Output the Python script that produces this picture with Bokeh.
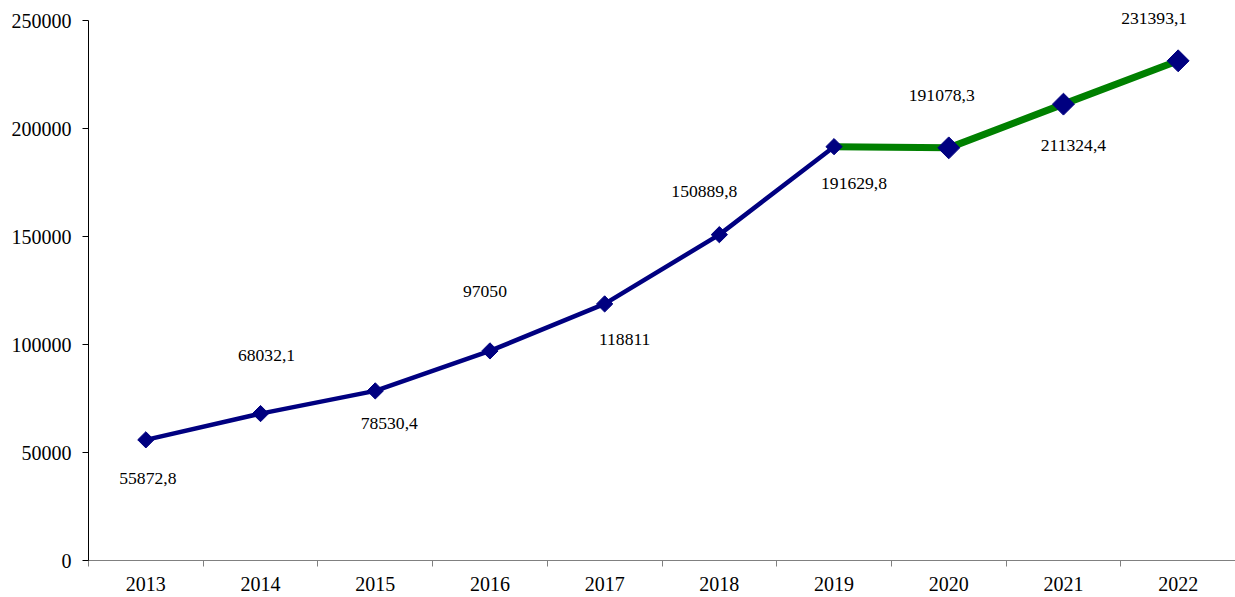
import math
from bokeh.plotting import figure
from bokeh.models import ColumnDataSource, FixedTicker, LabelSet, NumeralTickFormatter, Range1d
from bokeh.embed import file_html
from bokeh.resources import INLINE

# ---- data ----
years = [2013, 2014, 2015, 2016, 2017, 2018, 2019, 2020, 2021, 2022]
values = [55872.8, 68032.1, 78530.4, 97050, 118811, 150889.8, 191629.8, 191078.3, 211324.4, 231393.1]
value_labels = ["55872,8", "68032,1", "78530,4", "97050", "118811", "150889,8",
                "191629,8", "191078,3", "211324,4", "231393,1"]
y_ticks = [0, 50000, 100000, 150000, 200000, 250000]
split_year = 2019

# ---- style / layout (not data) ----
FONT = "Liberation Serif"
NAVY = "#000080"
GREEN = "#008000"
label_dx = [2, 6, 14, -5, 20, -15, 20, -7, 10, -24]
label_dy = [-39, 58, -33, 59, -36, 43, -37, 52, -41, 42]
marker_size = [11.5 if y <= split_year else 15.5 for y in years]
y_view_end = 257000  # a little headroom above the axis so top labels are not clipped

p = figure(width=1235, height=597, output_backend="svg", toolbar_location=None,
           x_range=Range1d(years[0] - 0.5, years[-1] + 0.5),
           y_range=Range1d(y_ticks[0], y_view_end),
           min_border_left=88, min_border_right=0, min_border_top=5, min_border_bottom=37)
p.outline_line_color = None
p.xgrid.grid_line_color = None
p.ygrid.grid_line_color = None
p.background_fill_color = "white"
p.border_fill_color = "white"

# lines
i_split = years.index(split_year)
p.line(years[:i_split + 1], values[:i_split + 1], line_color=NAVY, line_width=4.5)
p.line(years[i_split:], values[i_split:], line_color=GREEN, line_width=7)

src = ColumnDataSource(dict(x=years, y=values, txt=value_labels, dx=label_dx, dy=label_dy,
                            size=marker_size))
p.scatter("x", "y", source=src, marker="square", size="size", angle=math.pi / 4,
          fill_color=NAVY, line_color=NAVY)

labels = LabelSet(x="x", y="y", text="txt", source=src, x_offset="dx", y_offset="dy",
                  text_align="center", text_baseline="middle",
                  text_font=FONT, text_font_size="17.6px", text_color="black")
p.add_layout(labels)

# x axis: labels at year centres, tick marks at boundaries (minor ticks)
xa = p.xaxis[0]
xa.ticker = FixedTicker(ticks=years, minor_ticks=[y - 0.5 for y in years] + [years[-1] + 0.5])
xa.formatter = NumeralTickFormatter(format="0")
xa.major_tick_out = 0
xa.major_tick_in = 0
xa.minor_tick_out = 6
xa.minor_tick_in = 0
xa.minor_tick_line_color = "#808080"
xa.axis_line_color = "#808080"
xa.major_label_standoff = 10
xa.major_label_text_font = FONT
xa.major_label_text_font_size = "20px"
xa.major_label_text_color = "black"

ya = p.yaxis[0]
ya.ticker = FixedTicker(ticks=y_ticks)
ya.bounds = (y_ticks[0], y_ticks[-1])
ya.formatter = NumeralTickFormatter(format="0")
ya.major_tick_out = 6
ya.major_tick_in = 0
ya.minor_tick_out = 0
ya.minor_tick_in = 0
ya.axis_line_color = "black"
ya.major_tick_line_color = "black"
ya.major_label_standoff = 11
ya.major_label_text_font = FONT
ya.major_label_text_font_size = "20px"
ya.major_label_text_color = "black"

open("out.html", "w").write(file_html(p, INLINE))
